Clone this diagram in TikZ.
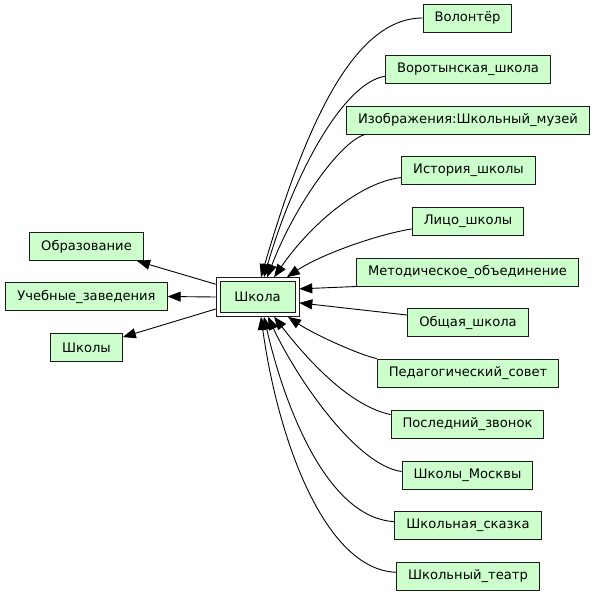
\documentclass[tikz,border=0pt]{standalone}
\usepackage{fontspec}
\setmainfont{DejaVu Sans}
\usetikzlibrary{arrows.meta}
\definecolor{PageFill}{HTML}{CCFFCC}
\definecolor{Frame}{HTML}{1A1A1A}

\begin{document}
\begin{tikzpicture}[x=1pt,y=-1pt,
    page/.style={draw=Frame,fill=PageFill,line width=1pt,minimum height=28pt,
      inner xsep=11.5pt,inner ysep=0pt,font=\fontsize{13.1}{16}\selectfont},
    hub/.style={page,double,double distance=3pt,minimum height=35pt,
      minimum width=79pt,outer sep=2.3pt},
    link/.style={-{Triangle[length=13pt,width=10pt]},line width=0.9pt}]
  \useasboundingbox (0,0) rectangle (595,595);
  % centre
  \node[hub] (shk) at (257.5,297) {Школа};
  % left
  \node[page] (obr) at (86.5,246.5) {Образование};
  \node[page] (uch) at (86.5,296.5) {Учебные\_заведения};
  \node[page] (shl) at (86.5,347.5) {Школы};
  % right
  \node[page] (vol) at (467.5,18) {Волонтёр};
  \node[page] (vor) at (468,69) {Воротынская\_школа};
  \node[page] (izo) at (468,120) {Изображения:Школьный\_музей};
  \node[page] (ist) at (468.5,170.5) {История\_школы};
  \node[page] (lic) at (468,221) {Лицо\_школы};
  \node[page] (met) at (467.5,272) {Методическое\_объединение};
  \node[page] (obs) at (468,322.5) {Общая\_школа};
  \node[page] (ped) at (468,373) {Педагогический\_совет};
  \node[page] (pos) at (467.5,424) {Последний\_звонок};
  \node[page] (msk) at (467.5,475) {Школы\_Москвы};
  \node[page] (ska) at (468,525.5) {Школьная\_сказка};
  \node[page] (tea) at (468,576) {Школьный\_театр};

  \draw[link] (shk.163) -- (obr.-16);
  \draw[link] (shk.west) -- (uch.east);
  \draw[link] (shk.196) -- (shl.16);

  \draw[link] (vol.west) .. controls (353,18) and (305,127) .. (shk.80);
  \draw[link] (vor.185) .. controls (345,82) and (295,170) .. (shk.72);
  \draw[link] (izo.188) .. controls (340,142) and (295,205) .. (shk.64);
  \draw[link] (ist.186) .. controls (360,182) and (310,225) .. (shk.50);
  \draw[link] (lic.188) .. controls (375,235) and (320,255) .. (shk.34);
  \draw[link] (met.south west) -- (shk.11);
  \draw[link] (obs.173) -- (shk.-8);
  \draw[link] (ped.171) .. controls (360,355) and (315,335) .. (shk.-33);
  \draw[link] (pos.173) .. controls (345,405) and (300,350) .. (shk.-50);
  \draw[link] (msk.177) .. controls (355,465) and (295,375) .. (shk.-62);
  \draw[link] (ska.177) .. controls (325,518) and (283,400) .. (shk.-72);
  \draw[link] (tea.177) .. controls (325,570) and (278,440) .. (shk.-80);
\end{tikzpicture}
\end{document}
